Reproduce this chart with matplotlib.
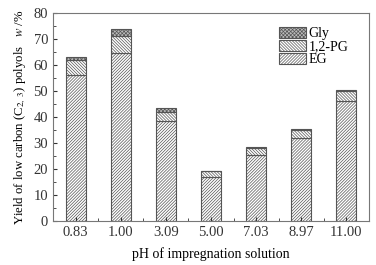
import matplotlib
matplotlib.use("Agg")
import matplotlib.pyplot as plt
from matplotlib.ticker import MultipleLocator
import numpy as np

ph_labels = ["0.83", "1.00", "3.09", "5.00", "7.03", "8.97", "11.00"]
eg = [56.0, 64.5, 38.5, 17.0, 25.5, 32.0, 46.0]
pg = [6.0, 6.5, 3.5, 2.2, 2.5, 3.0, 4.0]
gly = [1.0, 3.0, 1.3, 0.0, 0.5, 0.5, 0.5]

plt.rcParams['font.family'] = ['Liberation Serif', 'DejaVu Serif']
plt.rcParams['mathtext.fontset'] = 'stix'
plt.rcParams['hatch.color'] = '#808080'
plt.rcParams['hatch.linewidth'] = 0.5

fig = plt.figure(figsize=(3.76, 2.65), dpi=100)
ax = fig.add_axes([53/376, 1-221/265, 316/376, 208/265])

x = np.arange(len(ph_labels))
w = 0.44
edge = '#555555'
b1 = ax.bar(x, eg, w, color='white', edgecolor=edge, hatch='/' * 11, linewidth=0.8, label='EG')
b2 = ax.bar(x, pg, w, bottom=eg, color='white', edgecolor=edge, hatch='\\' * 11, linewidth=0.8, label='1,2-PG')
base = np.array(eg) + np.array(pg)
b3 = ax.bar(x, gly, w, bottom=base, color='#bbbbbb', edgecolor=edge, hatch='x' * 9, linewidth=0.8, label='Gly')

ax.set_xlim(-0.5, 6.5)
ax.set_ylim(0, 80)
ax.set_xticks(x)
ax.set_xticklabels(ph_labels)
ax.xaxis.set_minor_locator(MultipleLocator(0.5))
ax.yaxis.set_major_locator(MultipleLocator(10))
ax.yaxis.set_minor_locator(MultipleLocator(5))
ax.tick_params(which='both', direction='in', labelsize=10.5, colors='#333333', length=3)
ax.tick_params(which='minor', length=2)
for s in ax.spines.values():
    s.set_color('#777777')
    s.set_linewidth(0.8)

ax.set_xlabel('pH of impregnation solution', fontsize=10, labelpad=6)
ax.set_ylabel(r'Yield of low carbon (C$_{2,\ 3}$) polyols   $w$ /%', fontsize=9.2, labelpad=4)

ax.legend([b3, b2, b1], ['Gly', '1,2-PG', 'EG'], loc='upper right', frameon=False,
          fontsize=10, handlelength=1.9, handleheight=0.8, labelspacing=0.0,
          handletextpad=0.2, bbox_to_anchor=(0.965, 0.98), borderpad=0.2)

fig.savefig('out.png', dpi=100)
